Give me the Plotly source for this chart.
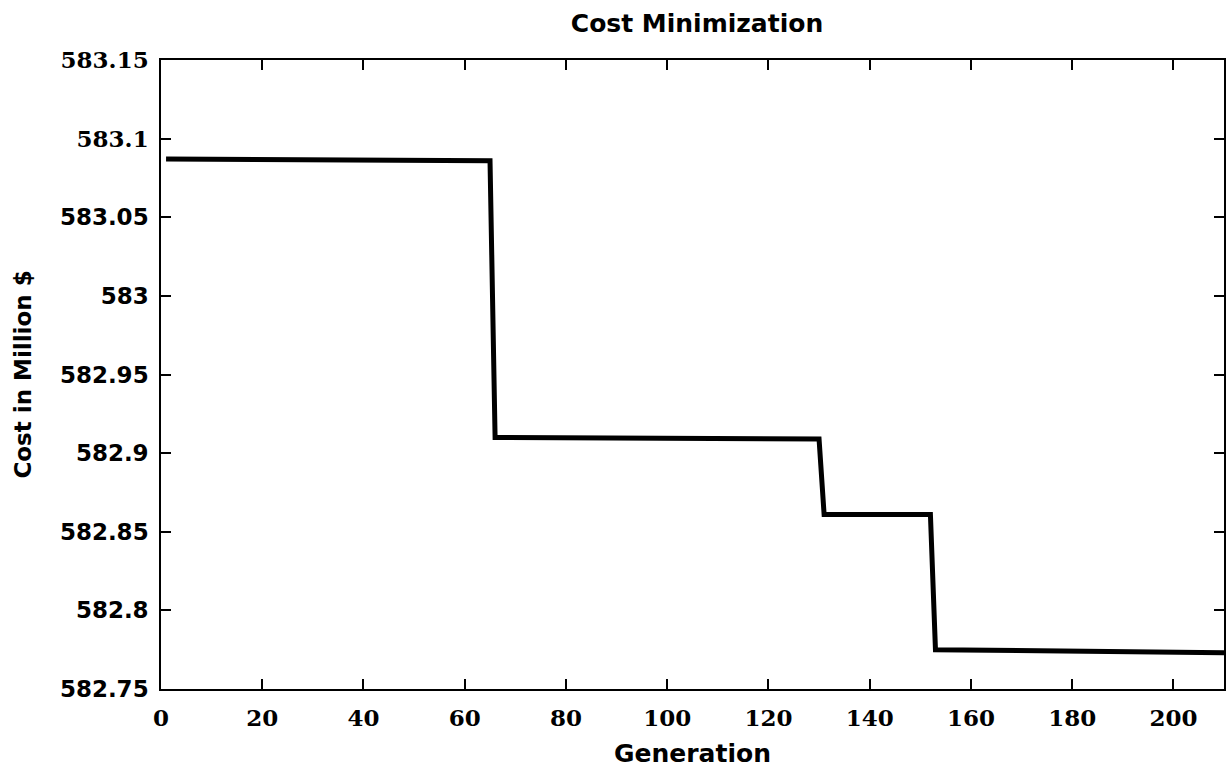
import plotly.graph_objects as go

# Data (generation breakpoints of the step curve)
generation = [1, 65, 66, 130, 131, 152, 153, 210]
cost = [583.087, 583.086, 582.910, 582.909, 582.861, 582.861, 582.775, 582.773]

x_ticks = [0, 20, 40, 60, 80, 100, 120, 140, 160, 180, 200]
y_ticks = [582.75, 582.8, 582.85, 582.9, 582.95, 583.0, 583.05, 583.1, 583.15]
y_tick_text = ["582.75", "582.8", "582.85", "582.9", "582.95", "583", "583.05", "583.1", "583.15"]
# labels that appear in a serif face in the scanned original
serif_labels = ["583.15", "583.1"]

SERIF = "DejaVu Serif"
SANS = "DejaVu Sans"

y_tick_html = [
    f'<span style="font-family:{SERIF}">{t}</span>' if t in serif_labels else t
    for t in y_tick_text
]

fig = go.Figure()
fig.add_trace(go.Scatter(
    x=generation, y=cost, mode="lines",
    line=dict(color="black", width=5),
    showlegend=False, hoverinfo="skip",
))

xtickfont = dict(family=SERIF, size=23, color="black", weight="bold")
ytickfont = dict(family=SANS, size=23, color="black", weight="bold")
titlefont = dict(family=SANS, size=25, color="black", weight="bold")
ytitlefont = dict(family=SANS, size=23, color="black", weight="bold")

fig.update_layout(
    width=1229, height=773,
    margin=dict(l=161, r=3, t=60, b=84),
    paper_bgcolor="white", plot_bgcolor="white",
    title=dict(text="Cost Minimization", x=697 / 1229, xanchor="center",
               y=1 - 23 / 773, yanchor="middle", yref="container",
               font=titlefont),
    xaxis=dict(
        range=[0, 210], tickvals=x_ticks, ticks="inside", ticklen=10,
        tickwidth=1.5, tickcolor="black", showline=True, linecolor="black",
        linewidth=1.5, mirror="ticks", showgrid=False, zeroline=False,
        tickfont=xtickfont, ticklabelstandoff=8,
        title=dict(text="Generation", font=titlefont, standoff=14),
    ),
    yaxis=dict(
        range=[582.75, 583.15], tickvals=y_ticks, ticktext=y_tick_html,
        ticks="inside", ticklen=10, tickwidth=1.5, tickcolor="black",
        showline=True, linecolor="black", linewidth=1.5, mirror="ticks",
        showgrid=False, zeroline=False, tickfont=ytickfont, ticklabelstandoff=6,
        title=dict(text="Cost in Million $", font=ytitlefont, standoff=22),
    ),
)

fig.write_html("out.html")
